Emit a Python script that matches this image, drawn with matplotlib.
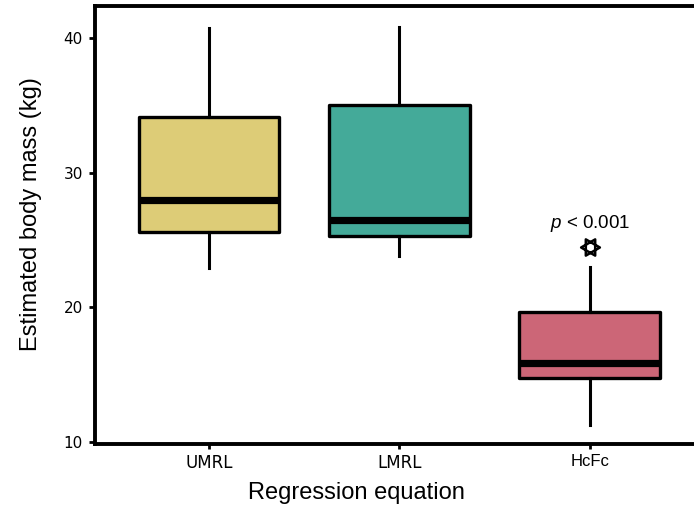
import numpy as np
import matplotlib; matplotlib.use("Agg")
import matplotlib.pyplot as plt
from matplotlib.path import Path

plt.rcParams.update({"font.family": "Liberation Sans", "mathtext.fontset": "custom",
                     "mathtext.rm": "Liberation Sans", "mathtext.it": "Liberation Sans:italic"})

# values
groups = ["UMRL", "LMRL", "HcFc"]
whislo = [22.95, 23.85, 11.3]
q1 = [25.6, 25.3, 14.8]
med = [28.0, 26.5, 15.9]
q3 = [34.1, 35.0, 19.7]
whishi = [40.7, 40.8, 23.0]
outliers = [[], [], [24.45]]
colors = ["#DDCC77", "#44AA99", "#CC6677"]
yticks = [10, 20, 30, 40]
note = "$\\it{p}$ < 0.001"
note_y = 26.25

# hexagram marker lying on its side: two open triangles pointing left / right
rt = [(1, 0), (-0.5, 0.866), (-0.5, -0.866), (1, 0)]
lf = [(-1, 0), (0.5, 0.866), (0.5, -0.866), (-1, 0)]
star = Path(rt + lf, [Path.MOVETO, Path.LINETO, Path.LINETO, Path.CLOSEPOLY] * 2)

stats = [dict(label=g, whislo=a, q1=b, med=c, q3=d, whishi=e, fliers=f)
         for g, a, b, c, d, e, f in zip(groups, whislo, q1, med, q3, whishi, outliers)]

fig = plt.figure(figsize=(6.94, 5.12), dpi=100)
ax = fig.add_axes([0.1366, 0.1322, 0.8777, 0.8566])
bp = ax.bxp(stats, positions=[1, 2, 3], widths=0.74, patch_artist=True, showcaps=False,
            boxprops=dict(linewidth=2.4, edgecolor="black", joinstyle="round"),
            medianprops=dict(color="black", linewidth=5.2, solid_capstyle="butt"),
            whiskerprops=dict(color="black", linewidth=2.2),
            flierprops=dict(marker=star, markerfacecolor="none", markeredgecolor="black",
                            markersize=13.5, markeredgewidth=1.8))
for patch, c in zip(bp["boxes"], colors):
    patch.set_facecolor(c)

ax.text(3, note_y, note, ha="center", va="center", fontsize=13.5)

ax.set_xlim(0.4, 3.6)
ax.set_ylim(9.85, 42.38)
ax.set_yticks(yticks)
ax.set_xticks([1, 2, 3])
ax.set_xticklabels(groups)
for lab in ax.get_xticklabels()[:2]:
    lab.set_fontfamily("DejaVu Sans")
for lab in ax.get_yticklabels():
    lab.set_fontfamily("DejaVu Sans")
ax.tick_params(axis="x", length=3.5, width=2, pad=3.5, labelsize=12)
ax.tick_params(axis="y", length=4.5, width=2, pad=4, labelsize=11)
for s in ax.spines.values():
    s.set_linewidth(2.8)

ax.set_ylabel("Estimated body mass (kg)", fontsize=17)
ax.set_xlabel("Regression equation", fontsize=17)
ax.yaxis.set_label_coords(-0.087, 0.524)
ax.xaxis.set_label_coords(0.43, -0.086)

fig.savefig("out.png", dpi=100)
